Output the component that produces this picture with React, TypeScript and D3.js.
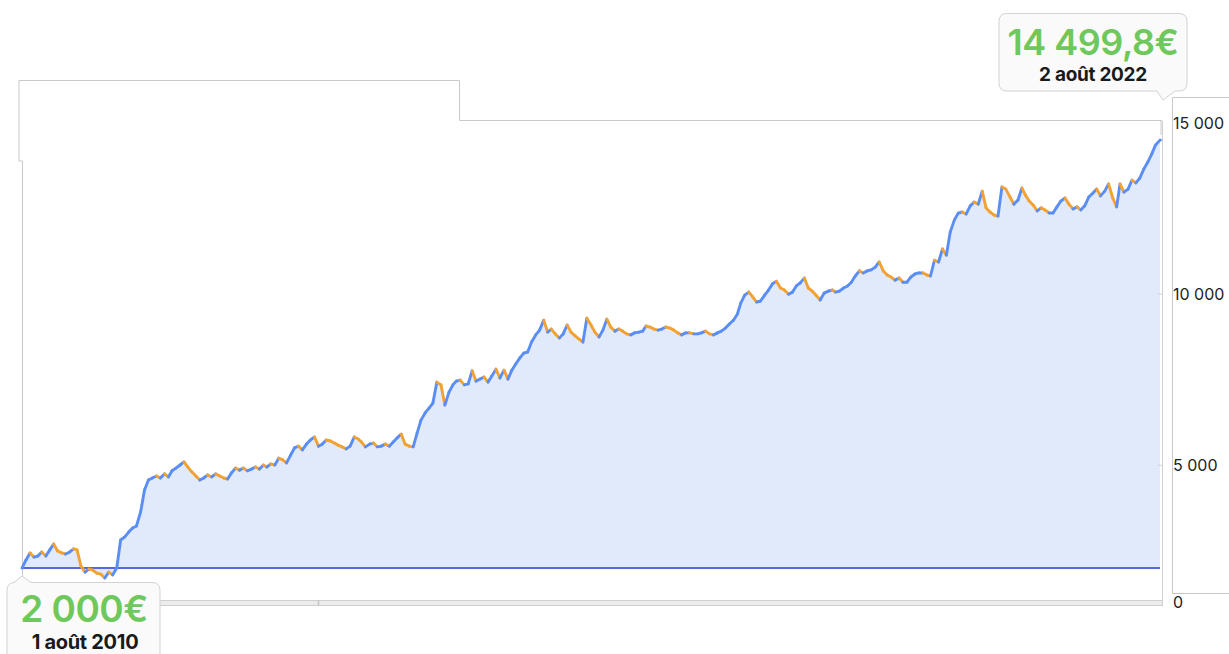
import React from "react";
import * as d3 from "d3";

// Portfolio value (€), one reading every half-month from 1 Aug 2010 to 2 Aug 2022
const values: number[] = [
  2000, 2230, 2440, 2320, 2350, 2470, 2350, 2530, 2700, 2500, 2440, 2410, 2470, 2560, 2530, 2060,
  1880, 1970, 1940, 1850, 1820, 1710, 1880, 1800, 2000, 2820, 2910, 3050, 3170, 3230, 3640, 4280,
  4570, 4630, 4690, 4630, 4750, 4660, 4840, 4920, 5010, 5100, 4950, 4810, 4690, 4570, 4630, 4720,
  4660, 4750, 4690, 4630, 4600, 4780, 4920, 4860, 4920, 4840, 4890, 4950, 4890, 5010, 4950, 5040,
  5010, 5210, 5160, 5070, 5300, 5510, 5560, 5450, 5620, 5740, 5830, 5560, 5620, 5740, 5710, 5650,
  5590, 5540, 5480, 5560, 5830, 5770, 5680, 5540, 5620, 5650, 5540, 5560, 5620, 5560, 5680, 5800,
  5910, 5620, 5560, 5540, 5940, 6320, 6530, 6670, 6820, 7430, 7350, 6760, 7140, 7350, 7460, 7490,
  7350, 7380, 7760, 7460, 7520, 7580, 7430, 7610, 7810, 7550, 7780, 7520, 7780, 7960, 8140, 8280,
  8310, 8600, 8810, 8950, 9240, 8890, 8980, 8840, 8720, 8840, 9100, 8890, 8780, 8690, 8600, 9300,
  9100, 8890, 8750, 8950, 9270, 9040, 8920, 8980, 8920, 8840, 8810, 8870, 8890, 8920, 9070, 9040,
  8980, 8950, 8980, 9040, 9010, 8950, 8870, 8810, 8870, 8870, 8840, 8840, 8870, 8920, 8840, 8810,
  8870, 8920, 9010, 9130, 9240, 9420, 9740, 9970, 10060, 9920, 9770, 9800, 9970, 10120, 10300, 10380,
  10180, 10120, 10000, 10060, 10240, 10330, 10470, 10180, 10090, 9970, 9830, 10030, 10090, 10120, 10060, 10090,
  10180, 10240, 10350, 10530, 10680, 10620, 10680, 10710, 10790, 10940, 10680, 10560, 10500, 10410, 10470, 10350,
  10350, 10500, 10590, 10620, 10620, 10560, 10530, 10990, 10940, 11320, 11140, 11820, 12170, 12370, 12400, 12340,
  12580, 12690, 12630, 13010, 12520, 12400, 12310, 12280, 13130, 13070, 12840, 12630, 12750, 13100, 12900, 12720,
  12600, 12430, 12520, 12460, 12370, 12370, 12550, 12720, 12810, 12630, 12490, 12550, 12460, 12580, 12840, 12950,
  13070, 12870, 13010, 13220, 12810, 12550, 13220, 12980, 13070, 13330, 13250, 13390, 13660, 13860, 14090, 14360,
  14499.8,
];

const startDate = new Date(2010, 7, 1);
const endDate = new Date(2022, 7, 2);
const baseValue = 2000;
const yTicks: number[] = [0, 5000, 10000, 15000];
const monthsFr: string[] = [
  "janv.", "févr.", "mars", "avr.", "mai", "juin", "juil.", "août", "sept.", "oct.", "nov.", "déc.",
];

const dates: Date[] = values.map((_, i) =>
  i === values.length - 1
    ? endDate
    : new Date(2010, 7 + Math.floor(i / 2), i % 2 === 0 ? 1 : 16)
);

const frLocale = d3.formatLocale({
  decimal: ",",
  thousands: " ",
  grouping: [3],
  currency: ["", "€"],
});
const fmtTick = frLocale.format(",d");
const fmtValue = (v: number) =>
  frLocale.format(Number.isInteger(v) ? ",d" : ",.1f")(v) + "€";
const fmtDate = (d: Date) =>
  `${d.getDate()} ${monthsFr[d.getMonth()]} ${d.getFullYear()}`;

const W = 1229;
const H = 654;
const PLOT_L = 22;
const PLOT_R = 1160;
const BLUE = "#5b8ef5";
const ORANGE = "#f2a232";
const GREEN = "#6fc85c";
const FONT = "Inter, 'Liberation Sans', sans-serif";

export default function App() {
  const x = d3.scaleTime().domain([startDate, endDate]).range([PLOT_L, PLOT_R]);
  const y = d3.scaleLinear().domain([0, 15000]).range([636.5, 123]);
  const yBase = y(baseValue);

  const pts = values.map((v, i) => ({ d: dates[i], v }));
  const area = d3
    .area<{ d: Date; v: number }>()
    .x((p) => x(p.d))
    .y0(yBase)
    .y1((p) => y(p.v));

  const segs = pts.slice(1).map((p, i) => ({ a: pts[i], b: p, up: p.v >= pts[i].v }));

  const first = pts[0];
  const last = pts[pts.length - 1];
  const fx = x(first.d);
  const fy = y(first.v);
  const lx = x(last.d);
  const ly = y(last.v);

  const axisX = 1172;
  const axisBottom = 593;

  return (
    <svg
      width={W}
      height={H}
      style={{ position: "absolute", left: 0, top: 0, background: "#fff" }}
      fontFamily={FONT}
    >
      {/* outer frame */}
      <path
        d={`M19,161 V80.5 H459.5 V120.5 H${PLOT_R + 2}`}
        fill="none"
        stroke="#c9c9c9"
        strokeWidth={1}
      />
      <path d={`M19,161 H22.5 V603`} fill="none" stroke="#c9c9c9" strokeWidth={1} />
      {/* area */}
      <path d={area(pts) || ""} fill="#e0eafb" />
      {/* base line */}
      <line x1={PLOT_L} x2={PLOT_R} y1={yBase} y2={yBase} stroke="#5967e0" strokeWidth={2} />
      {/* price line */}
      <g strokeWidth={2.9} strokeLinecap="round">
        {segs.map((s, i) => (
          <line
            key={i}
            x1={x(s.a.d)}
            y1={y(s.a.v)}
            x2={x(s.b.d)}
            y2={y(s.b.v)}
            stroke={s.up ? BLUE : ORANGE}
          />
        ))}
      </g>
      <line x1={lx} x2={PLOT_R + 2} y1={ly} y2={ly} stroke={BLUE} strokeWidth={1.5} />
      {/* right edge of plot */}
      <line x1={PLOT_R + 2.5} x2={PLOT_R + 2.5} y1={121} y2={606} stroke="#cfcfcf" />
      <rect x={PLOT_R} y={121} width={2} height={14} fill="#e4e4e4" />
      {y.ticks(3).filter((t) => t > 0 && t < 15000).map((t) => (
        <line key={t} x1={PLOT_R - 2} x2={PLOT_R + 2} y1={y(t)} y2={y(t)} stroke="#cfcfcf" />
      ))}
      {/* bottom scrollbar band */}
      <rect x={PLOT_L} y={600.5} width={PLOT_R - PLOT_L + 2.5} height={5} fill="#ececec" stroke="#cfcfcf" strokeWidth={1} />
      <line x1={318.5} x2={318.5} y1={600.5} y2={605.5} stroke="#c4c4c4" strokeWidth={1.5} />
      {/* right axis box */}
      <path
        d={`M${W},97.5 H${axisX + 0.5} V${axisBottom + 0.5} H${W}`}
        fill="none"
        stroke="#c9c9c9"
      />
      {yTicks.map((t) => (
        <text
          key={t}
          x={axisX + 1}
          y={Math.min(y(t), 602)}
          dominantBaseline="central"
          fontSize={16}
          fill="#222"
        >
          {fmtTick(t)}
        </text>
      ))}
      {/* end tooltip */}
      <path
        d={`M1007,13.5 H1179 Q1187,13.5 1187,21.5 V83 Q1187,91 1179,91 H1175 L${lx + 3},100 L1157,91 H1007 Q999,91 999,83 V21.5 Q999,13.5 1007,13.5 Z`}
        fill="#fafafa"
        stroke="#d2d2d2"
      />
      <text x={1093} y={55} textAnchor="middle" fontSize={36} fontWeight={600} fill={GREEN} letterSpacing={-0.5}>
        {fmtValue(last.v)}
      </text>
      <text x={1093} y={81} textAnchor="middle" fontSize={19} fontWeight={700} fill="#1a1a1a" letterSpacing={-0.3}>
        {fmtDate(last.d)}
      </text>
      {/* start tooltip */}
      <path
        d={`M15,582.5 H14 L${fx},${fy + 8} L31,582.5 H152 Q160,582.5 160,590.5 V670 H7 V590.5 Q7,582.5 15,582.5 Z`}
        fill="#fafafa"
        stroke="#d2d2d2"
      />
      <text x={84} y={622} textAnchor="middle" fontSize={37} fontWeight={600} fill={GREEN} letterSpacing={-0.5}>
        {fmtValue(first.v)}
      </text>
      <text x={85} y={649} textAnchor="middle" fontSize={20} fontWeight={700} fill="#1a1a1a" letterSpacing={-0.3}>
        {fmtDate(first.d)}
      </text>
    </svg>
  );
}
